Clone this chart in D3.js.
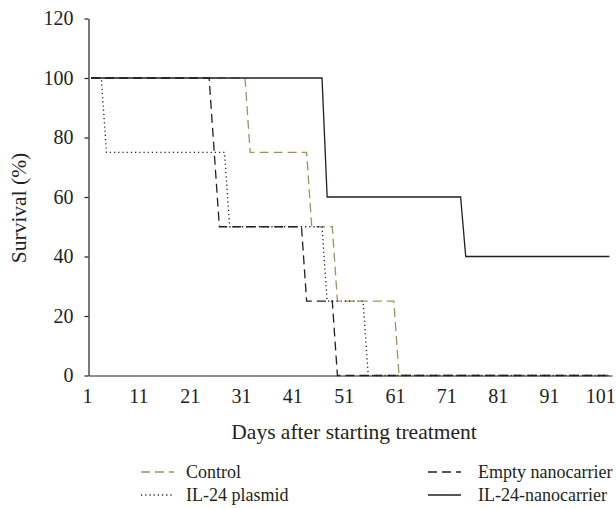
<!DOCTYPE html>
<html>
<head>
<meta charset="utf-8">
<script src="https://cdn.jsdelivr.net/npm/d3@7"></script>
<style>
  html, body { margin: 0; padding: 0; background: #fff; }
  svg { display: block; }
  text { font-family: "Liberation Serif", "DejaVu Serif", serif; fill: #231f20; }
</style>
</head>
<body>
<div id="chart"></div>
<script>
// ---- Data ----
const seriesNames = ["Control", "IL-24 plasmid", "Empty nanocarrier", "IL-24-nanocarrier"];

const controlDays = [1, 31, 32, 43, 44, 48, 49, 60, 61, 102];
const controlSurvival = [100, 100, 75, 75, 50, 50, 25, 25, 0, 0];

const plasmidDays = [1, 3, 4, 27, 28, 46, 47, 54, 55, 102];
const plasmidSurvival = [100, 100, 75, 75, 50, 50, 25, 25, 0, 0];

const emptyDays = [1, 24, 25, 26, 42, 43, 48, 49, 102];
const emptySurvival = [100, 100, 75, 50, 50, 25, 25, 0, 0];

const nanoDays = [1, 46, 47, 73, 74, 102];
const nanoSurvival = [100, 100, 60, 60, 40, 40];

const xTickLabels = [1, 11, 21, 31, 41, 51, 61, 71, 81, 91, 101];
const yTickLabels = [0, 20, 40, 60, 80, 100, 120];

const xTitle = "Days after starting treatment";
const yTitle = "Survival (%)";

// ---- Layout ----
const W = 616, H = 509;
const TICK_FONT = 20, TITLE_FONT = 21.5, LEGEND_FONT = 18;

const svg = d3.select("#chart").append("svg").attr("width", W).attr("height", H);

const x = d3.scaleLinear().domain([0.5, 102.5]).range([88.5, 612]);
const y = d3.scaleLinear().domain([0, 120]).range([375.5, 18.5]);

const series = [
  { name: seriesNames[0], days: controlDays, vals: controlSurvival, color: "#a0925e", dash: "9,5" },
  { name: seriesNames[1], days: plasmidDays, vals: plasmidSurvival, color: "#231f20", dash: "1.2,3" },
  { name: seriesNames[2], days: emptyDays, vals: emptySurvival, color: "#231f20", dash: "9,5" },
  { name: seriesNames[3], days: nanoDays, vals: nanoSurvival, color: "#231f20", dash: null }
];

// axes
const yAxis = d3.axisLeft(y).tickValues(yTickLabels).tickSize(4).tickSizeOuter(0).tickPadding(11);
const gy = svg.append("g").attr("transform", "translate(88.5,0)").call(yAxis);
gy.selectAll("path, line").attr("stroke", "#231f20").attr("stroke-width", 1.2);
gy.selectAll("text").style("font-size", TICK_FONT + "px").style("font-family", "Liberation Serif");

const xAxis = d3.axisBottom(x).tickValues(xTickLabels).tickSize(0).tickSizeOuter(0).tickPadding(13);
const gx = svg.append("g").attr("transform", "translate(0,375.5)").call(xAxis);
gx.selectAll("path").attr("stroke", "#231f20").attr("stroke-width", 1.2);
gx.selectAll("text").attr("dx", -4).style("font-size", TICK_FONT + "px").style("font-family", "Liberation Serif");

// lines
const line = d3.line().x(d => x(d[0])).y(d => y(d[1]));
series.forEach(s => {
  const pts = s.days.map((d, i) => [d, s.vals[i]]);
  svg.append("path")
    .datum(pts)
    .attr("d", line)
    .attr("fill", "none")
    .attr("stroke", s.color)
    .attr("stroke-width", 1.3)
    .attr("stroke-dasharray", s.dash);
});

// titles
svg.append("text")
  .attr("x", 354).attr("y", 439)
  .attr("text-anchor", "middle")
  .style("font-size", TITLE_FONT + "px")
  .text(xTitle);

svg.append("text")
  .attr("transform", "translate(26,208) rotate(-90)")
  .attr("text-anchor", "middle")
  .style("font-size", TITLE_FONT + "px")
  .text(yTitle);

// legend
const legendPos = [
  { lx: 141, tx: 186, ty: 478 },
  { lx: 141, tx: 186, ty: 501 },
  { lx: 428, tx: 478, ty: 478 },
  { lx: 428, tx: 478, ty: 501 }
];
series.forEach((s, i) => {
  const p = legendPos[i];
  const g = svg.append("g");
  g.append("line")
    .attr("x1", p.lx).attr("x2", p.lx + 33)
    .attr("y1", p.ty - 6).attr("y2", p.ty - 6)
    .attr("stroke", s.color).attr("stroke-width", 1.3)
    .attr("stroke-dasharray", s.dash);
  g.append("text")
    .attr("x", p.tx).attr("y", p.ty)
    .style("font-size", LEGEND_FONT + "px")
    .text(s.name);
});
</script>
</body>
</html>
